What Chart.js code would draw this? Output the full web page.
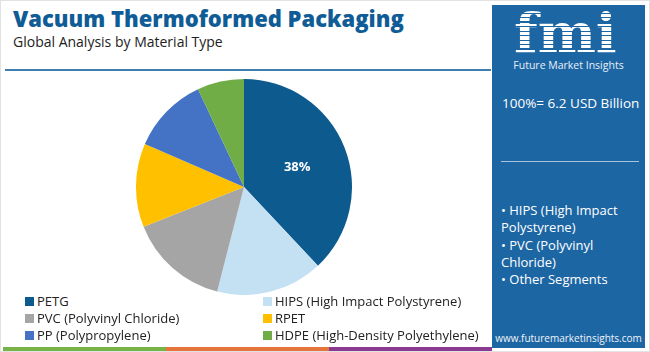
<!DOCTYPE html>
<html>
<head>
<meta charset="utf-8">
<script src="https://cdn.jsdelivr.net/npm/chart.js@4.4.1/dist/chart.umd.min.js"></script>
<style>
  html, body { margin: 0; padding: 0; background: #fff; }
  body { width: 650px; height: 352px; position: relative; overflow: hidden; font-family: "Open Sans", "Noto Sans", sans-serif; }
  #frame { position: absolute; left: 0; top: 0; width: 648px; height: 350px; border: 1px solid #e2e2e2; }
  #title { position: absolute; left: 13px; top: 3px; font-family: "Open Sans", sans-serif; font-weight: 800; font-size: 22px; color: #0f5c96; white-space: nowrap; }
  #subtitle { position: absolute; left: 13px; top: 32px; font-size: 14px; color: #222; white-space: nowrap; }
  #sep { position: absolute; left: 5px; top: 69px; width: 486px; height: 2px; background: #3f7fb0; }
  #chartBox { position: absolute; left: 136px; top: 79px; width: 216px; height: 216px; }
  #legend { position: absolute; left: 25px; top: 292px; width: 465px; }
  .li { position: absolute; display: flex; align-items: center; font-size: 13px; color: #222; white-space: nowrap; height: 18px; }
  .sw { width: 9px; height: 9px; margin-right: 3px; }
  #panel { position: absolute; left: 492px; top: 5px; width: 153px; height: 343px; background: #1d66a4; color: #fff; }
  #logo { position: absolute; left: 22px; top: 0px; font-family: "DejaVu Serif", serif; font-weight: bold; font-size: 55px; line-height: 55px; letter-spacing: 0px;
    background: repeating-linear-gradient(to bottom, #fff 0px, #fff 3px, transparent 3px, transparent 4.5px); -webkit-background-clip: text; background-clip: text; color: transparent; }
  #logoSub { position: absolute; left: 0; width: 153px; text-align: center; top: 53px; font-size: 10.5px; color: #e8f0f8; }
  #total { position: absolute; left: 10px; top: 89px; font-size: 13.5px; white-space: nowrap; }
  #pline { position: absolute; left: 9px; top: 156px; width: 138px; height: 1px; background: #a9c4dd; }
  #bullets { position: absolute; left: 9px; top: 197px; font-size: 13px; line-height: 17.3px; }
  #web { position: absolute; left: 0; width: 153px; text-align: center; top: 326px; font-size: 10px; color: #f0f4f8; }
  .bar { position: absolute; top: 347px; height: 4px; }
</style>
</head>
<body>
<div id="frame"></div>
<div id="title">Vacuum Thermoformed Packaging</div>
<div id="subtitle">Global Analysis by Material Type</div>
<div id="sep"></div>
<div id="chartBox"><canvas id="c" width="216" height="216"></canvas></div>
<div id="legend"></div>
<div id="panel">
  <div id="logo">fmi</div>
  <div id="logoSub">Future Market Insights</div>
  <div id="total">100%= 6.2 USD Billion</div>
  <div id="pline"></div>
  <div id="bullets">• HIPS (High Impact<br>Polystyrene)<br>• PVC (Polyvinyl<br>Chloride)<br>• Other Segments</div>
  <div id="web">www.futuremarketinsights.com</div>
</div>
<div class="bar" style="left:3px;width:163px;background:#78b348;"></div>
<div class="bar" style="left:166px;width:163px;background:#e5733a;"></div>
<div class="bar" style="left:329px;width:163px;background:#8b3b8f;"></div>
<script>
const categories = ["PETG", "HIPS (High Impact Polystyrene)", "PVC (Polyvinyl Chloride)", "RPET", "PP (Polypropylene)", "HDPE (High-Density Polyethylene)"];
const shares = [38, 16, 15, 12.5, 11.5, 7];
const colors = ["#0d5a8f", "#c4e1f3", "#a5a5a5", "#ffc000", "#4472c4", "#70ad47"];
const shownLabels = ["38%", "", "", "", "", ""];

// HTML legend built from the arrays (two columns)
const legend = document.getElementById('legend');
categories.forEach((cat, i) => {
  const d = document.createElement('div');
  d.className = 'li';
  d.style.left = (i % 2 === 0 ? 0 : 238) + 'px';
  d.style.top = (Math.floor(i / 2) * 17) + 'px';
  d.innerHTML = '<span class="sw" style="background:' + colors[i] + '"></span>' + cat;
  legend.appendChild(d);
});

const labelPlugin = {
  id: 'sliceLabels',
  afterDatasetsDraw(chart) {
    const ctx = chart.ctx;
    const meta = chart.getDatasetMeta(0);
    ctx.save();
    ctx.font = 'bold 13px "Open Sans", sans-serif';
    ctx.fillStyle = '#ffffff';
    ctx.textAlign = 'center';
    ctx.textBaseline = 'middle';
    meta.data.forEach((arc, i) => {
      if (!shownLabels[i]) return;
      const p = arc.tooltipPosition();
      ctx.fillText(shownLabels[i], p.x + 3, p.y);
    });
    ctx.restore();
  }
};

new Chart(document.getElementById('c'), {
  type: 'pie',
  data: {
    labels: categories,
    datasets: [{ data: shares, backgroundColor: colors, borderWidth: 0 }]
  },
  options: {
    responsive: false,
    animation: false,
    layout: { padding: 0 },
    plugins: { legend: { display: false }, tooltip: { enabled: false } }
  },
  plugins: [labelPlugin]
});
</script>
</body>
</html>
